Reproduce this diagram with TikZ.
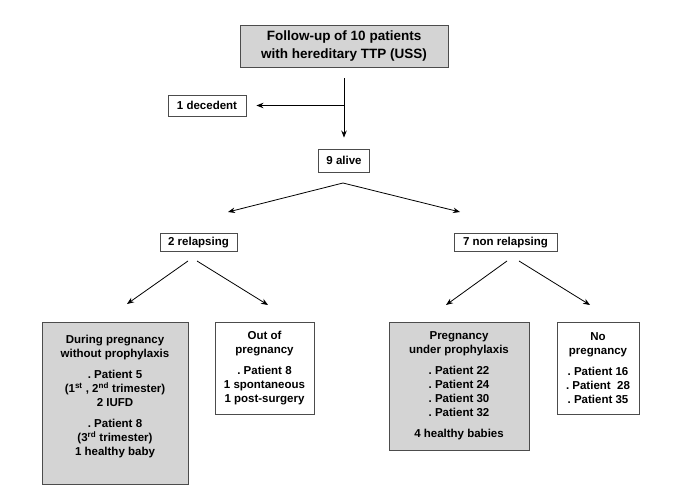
\documentclass[tikz,border=0pt]{standalone}
\usepackage{fontspec}
\setmainfont{Liberation Sans}
\usetikzlibrary{arrows.meta}
\frenchspacing
\begin{document}
\begin{tikzpicture}[x=1pt,y=-1pt,
  box/.style={draw=black!70,line width=0.9pt,inner sep=0pt,font=\bfseries\fontsize{11.5}{14}\selectfont,align=center},
  greybox/.style={box,fill=black!17},
  txt/.style={inner sep=0pt,font=\bfseries\fontsize{11.5}{14}\selectfont,align=center},
  arr/.style={line width=0.8pt,-{Stealth[length=7pt,width=5.5pt]}}]
\useasboundingbox (0,0) rectangle (674,489);
\node[greybox,minimum width=208pt,minimum height=42pt,font=\bfseries\fontsize{13.5}{18}\selectfont] (top) at (344,46) {Follow-up of 10 patients\\with hereditary TTP (USS)};
\node[box,minimum width=78pt,minimum height=21pt] (dec) at (207,105.5) {1 decedent};
\node[box,minimum width=51pt,minimum height=23pt] (alive) at (344,160.5) {9 alive};
\node[box,minimum width=77pt,minimum height=18pt] (rel) at (198.5,242.5) {2 relapsing};
\node[box,minimum width=103pt,minimum height=18pt] (nrel) at (505.5,242.5) {7 non relapsing};
\node[greybox,minimum width=146pt,minimum height=162pt] (b1) at (115,403) {};
\node[txt] (b1t) at (115,397) {During pregnancy\\without prophylaxis\\[7pt]. Patient 5\\(1\textsuperscript{st} , 2\textsuperscript{nd} trimester)\\2 IUFD\\[7pt]. Patient 8\\(3\textsuperscript{rd} trimester)\\1 healthy baby};
\node[box,minimum width=99pt,minimum height=92pt] (b2) at (264.5,368) {Out of\\pregnancy\\[7pt]. Patient 8\\1 spontaneous\\1 post-surgery};
\node[greybox,minimum width=140pt,minimum height=128pt] (b3) at (459,386) {Pregnancy\\under prophylaxis\\[7pt]. Patient 22\\. Patient 24\\. Patient 30\\. Patient 32\\[7pt]4 healthy babies};
\node[box,minimum width=82pt,minimum height=92pt] (b4) at (598,368) {No\\pregnancy\\[7pt]. Patient 16\\. Patient~~28\\. Patient 35};
% connectors
\coordinate (j) at (344,105.5);
\draw[line width=0.8pt] ([yshift=-11pt]top.south) -- (j);
\draw[arr,shorten >=11pt] (j) -- (alive.north);
\draw[arr,shorten >=10pt] (j) -- (dec.east);
\coordinate (p) at (343,183);
\coordinate (lt) at (228,212);
\coordinate (rt) at (460,212);
\draw[arr] (p) -- (lt);
\draw[arr] (p) -- (rt);
\coordinate (r1) at (188,261);
\coordinate (r2) at (197,261);
\coordinate (r1t) at (127,304);
\coordinate (r2t) at (268,305);
\draw[arr] (r1) -- (r1t);
\draw[arr] (r2) -- (r2t);
\coordinate (n1) at (507,261);
\coordinate (n2) at (519,261);
\coordinate (n1t) at (446,305);
\coordinate (n2t) at (590,305);
\draw[arr] (n1) -- (n1t);
\draw[arr] (n2) -- (n2t);
\end{tikzpicture}
\end{document}
